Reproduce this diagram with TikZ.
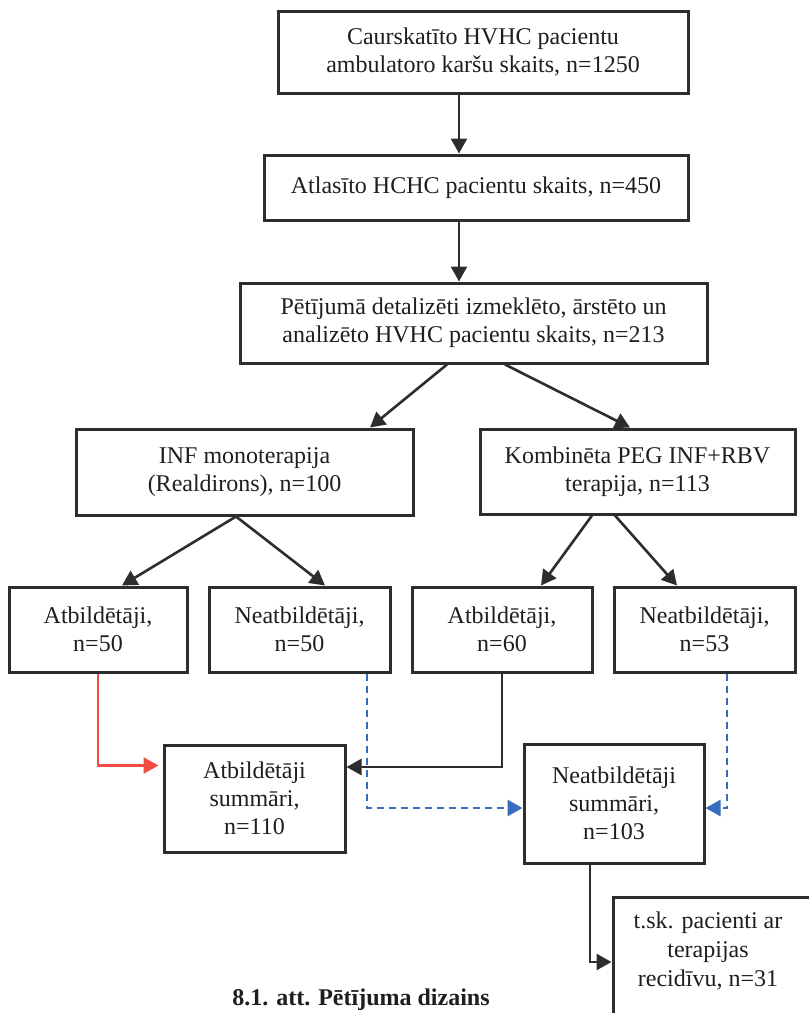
\documentclass[tikz,border=0pt]{standalone}
\usepackage{fontspec}
\setmainfont{Liberation Serif}
\usetikzlibrary{arrows.meta}
\definecolor{ink}{RGB}{45,45,45}
\definecolor{txt}{RGB}{30,30,30}
\definecolor{redc}{RGB}{240,78,64}
\definecolor{bluec}{RGB}{58,108,190}
\tikzset{
  box/.style={draw=ink, line width=3pt, align=center, text=txt, inner sep=0pt,
    font=\fontsize{24}{28}\selectfont},
  tip/.style={-{Triangle[length=15pt,width=16pt]}},
  arr/.style={draw=ink, line width=2.6pt, tip},
  redarr/.style={draw=redc, line width=2.6pt, tip, shorten >=4pt},
  bluearr/.style={draw=bluec, line width=2.4pt, dash pattern=on 7pt off 5pt, tip},
}
\begin{document}
\begin{tikzpicture}[x=1pt,y=-1pt]
\useasboundingbox (0,0) rectangle (809,1013);
\node[box, minimum width=410pt, minimum height=82pt] (b1) at (483,52)
  {Caurskatīto HVHC pacientu\\ambulatoro karšu skaits, n=1250};
\node[box, minimum width=424pt, minimum height=65pt] (b2) at (476,187.5)
  {Atlasīto HCHC pacientu skaits, n=450};
\node[box, minimum width=467pt, minimum height=80pt] (b3) at (473.5,323)
  {Pētījumā detalizēti izmeklēto, ārstēto un\\analizēto HVHC pacientu skaits, n=213};
\node[box, minimum width=337pt, minimum height=86pt] (inf) at (244.5,472)
  {INF monoterapija\\(Realdirons), n=100};
\node[box, minimum width=315pt, minimum height=85pt] (komb) at (637.5,471.5)
  {Kombinēta PEG INF+RBV\\terapija, n=113};
\node[box, minimum width=178pt, minimum height=85pt] (a1) at (98,629.5)
  {Atbildētāji,\\n=50};
\node[box, minimum width=181pt, minimum height=85pt] (n1) at (299.5,629.5)
  {Neatbildētāji,\\n=50};
\node[box, minimum width=180pt, minimum height=85pt] (a2) at (502,629.5)
  {Atbildētāji,\\n=60};
\node[box, minimum width=181pt, minimum height=85pt] (n2) at (704.5,629.5)
  {Neatbildētāji,\\n=53};
\node[box, minimum width=181pt, minimum height=107pt] (as) at (254.5,798.5)
  {Atbildētāji\\summāri,\\n=110};
\node[box, minimum width=180pt, minimum height=119pt] (ns) at (614,803.5)
  {Neatbildētāji\\summāri,\\n=103};
\node[box, minimum width=217pt, minimum height=133pt] (tsk) at (721.5,963.5) {};
\node[align=center, text=txt, inner sep=0pt, font=\fontsize{24}{29}\selectfont] (tsktext) at (708,951)
  {t.sk. pacienti ar\\terapijas\\recidīvu, n=31};
\node[text=txt, inner sep=0pt, font=\fontsize{24}{28}\selectfont\bfseries] (cap) at (361,1000)
  {8.1. att. Pētījuma dizains};

\draw[arr] ([xshift=-24pt]b1.south) -- ([xshift=-17pt]b2.north);
\draw[arr] ([xshift=-17pt]b2.south) -- ([xshift=-14.5pt]b3.north);
\draw[arr] ([xshift=-26.5pt]b3.south) -- ([xshift=125.5pt]inf.north);
\draw[arr] ([xshift=31.5pt]b3.south) -- ([xshift=-7.5pt]komb.north);
\draw[arr] ([xshift=-8.5pt]inf.south) -- ([xshift=24pt]a1.north);
\draw[arr] ([xshift=-8.5pt]inf.south) -- ([xshift=25.5pt]n1.north);
\draw[arr] ([xshift=-45.5pt]komb.south) -- ([xshift=39pt]a2.north);
\draw[arr] ([xshift=-22.5pt]komb.south) -- ([xshift=-27.5pt]n2.north);

\draw[redarr] (a1.south) |- ([yshift=33pt]as.west);
\draw[arr] (a2.south) |- ([yshift=31.5pt]as.east);
\draw[bluearr] ([xshift=67.5pt]n1.south) |- ([yshift=-4.5pt]ns.west);
\draw[bluearr] ([xshift=22.5pt]n2.south) |- ([yshift=-4.5pt]ns.east);
\draw[arr] ([xshift=-24pt]ns.south) |- ([yshift=1.5pt]tsk.west);
\end{tikzpicture}
\end{document}
